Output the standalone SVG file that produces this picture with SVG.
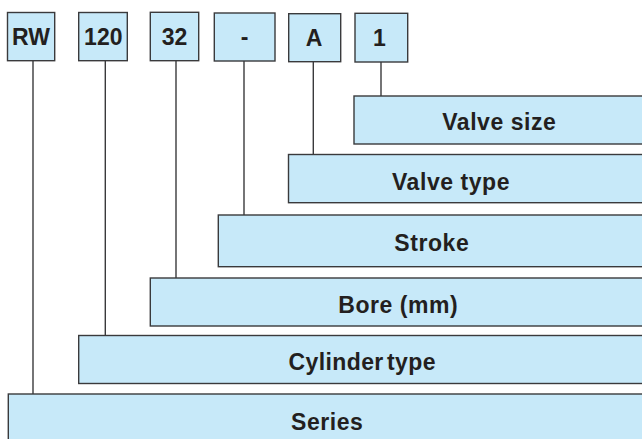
<svg xmlns="http://www.w3.org/2000/svg" width="642" height="439" viewBox="0 0 642 439">
<style>
.box{fill:#c7e9f9;stroke:#3a3a3c;stroke-width:1.4}
.lbl{font-family:"Liberation Sans",Arial,sans-serif;font-weight:bold;font-size:23px;fill:#231f20;text-anchor:middle}
.wide{letter-spacing:0.55px}
.conn line{stroke:#3a3a3c;stroke-width:1.4}
</style>
<rect width="642" height="439" fill="#ffffff"/>
<g id="connectors" class="conn">
<line x1="33" y1="60.7" x2="33" y2="394"/>
<line x1="105.3" y1="60.7" x2="105.3" y2="335.5"/>
<line x1="176" y1="60.7" x2="176" y2="278"/>
<line x1="244" y1="61" x2="244" y2="215"/>
<line x1="313.3" y1="61.7" x2="313.3" y2="154.5"/>
<line x1="381" y1="62" x2="381" y2="96"/>
</g>
<g id="code-RW"><rect class="box" x="7.5" y="12.5" width="47.2" height="48.2"/><text class="lbl" x="31" y="45">RW</text></g>
<g id="code-120"><rect class="box" x="78.7" y="12.5" width="48.6" height="48.2"/><text class="lbl" x="103.3" y="45">120</text></g>
<g id="code-32"><rect class="box" x="150.3" y="12.3" width="48.4" height="48.4"/><text class="lbl" x="174.5" y="45">32</text></g>
<g id="code-dash"><rect class="box" x="214.3" y="13" width="60.7" height="48"/><text class="lbl" x="244.7" y="45">-</text></g>
<g id="code-A"><rect class="box" x="288.7" y="13.7" width="52" height="48"/><text class="lbl" x="314" y="45.5">A</text></g>
<g id="code-1"><rect class="box" x="355" y="13.3" width="52.7" height="48.7"/><text class="lbl" x="379.5" y="45.5">1</text></g>
<g id="valve-size"><rect class="box" x="354" y="96" width="300" height="48"/><text class="lbl wide" x="499.3" y="130">Valve size</text></g>
<g id="valve-type"><rect class="box" x="288.5" y="154.5" width="370" height="48.2"/><text class="lbl wide" x="451" y="189.5">Valve type</text></g>
<g id="stroke"><rect class="box" x="218.3" y="215" width="440" height="51.7"/><text class="lbl wide" x="431.8" y="251">Stroke</text></g>
<g id="bore"><rect class="box" x="150.3" y="278" width="510" height="48"/><text class="lbl wide" x="398.3" y="313.3">Bore (mm)</text></g>
<g id="cylinder-type"><rect class="box" x="78.7" y="335.5" width="580" height="48"/><text class="lbl" x="362.2" y="370" letter-spacing="0.4" word-spacing="-3.5">Cylinder type</text></g>
<g id="series"><rect class="box" x="8.3" y="394" width="650" height="60"/><text class="lbl wide" x="327.2" y="430">Series</text></g>
</svg>
